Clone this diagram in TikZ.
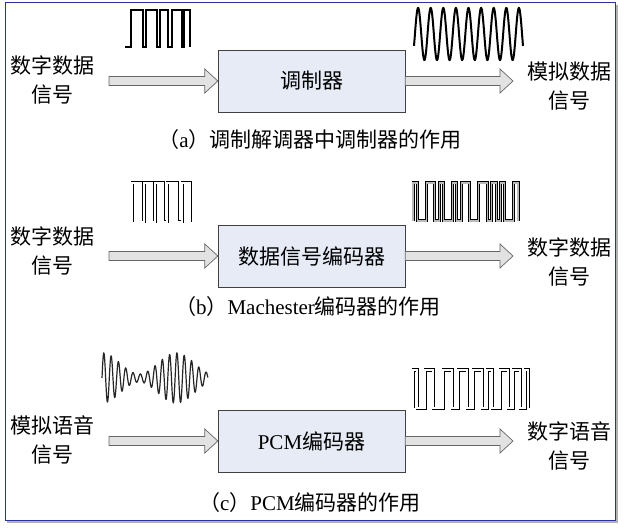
\documentclass[tikz,border=0pt]{standalone}
\usepackage{fontspec}
\setmainfont{Liberation Serif}
\newfontfamily\cjk{Noto Sans CJK SC}
\usepackage{xcolor}
\usepackage{tikz}
\usetikzlibrary{positioning,calc}
\definecolor{boxfill}{RGB}{230,235,246}
\definecolor{framec}{RGB}{40,50,160}
\definecolor{arrfill}{RGB}{226,226,226}

% hollow block arrow from #1 to #2 (same height)
\newcommand\blockarr[2]{\draw[blk] let \p1=(#1),\p2=(#2) in
  (\x1,\y1+4.5pt) -- (\x2-13pt,\y1+4.5pt) -- (\x2-13pt,\y1+12pt) -- (\x2,\y1)
  -- (\x2-13pt,\y1-12pt) -- (\x2-13pt,\y1-4.5pt) -- (\x1,\y1-4.5pt) -- cycle;}

\begin{document}
\begin{tikzpicture}[x=1pt,y=-1pt,font=\fontsize{21}{29}\selectfont,
  coder/.style={draw=black!75,fill=boxfill,minimum width=187pt,minimum height=62pt,inner sep=0pt},
  sig/.style={align=center,inner sep=0pt,font=\fontsize{21}{29}\selectfont\cjk},
  caption/.style={inner sep=0pt},
  blk/.style={draw=black!60,fill=arrfill,line width=0.7pt},
  wave/.style={line width=1.8pt,miter limit=2},
  dwave/.style={draw=black,double=white,double distance=1.2pt,line width=0.9pt}]
  \useasboundingbox (0,0) rectangle (624,529);
  \draw[black!30,line width=2pt] (8,6) rectangle (617,522);
  \draw[framec,fill=white,line width=1pt] (5,3) rectangle (615,520);
  % (a) modem
  \node[coder] (mod) at (311.5,81) {\cjk 调制器};
  \node[sig] (ain) at (52,80) {数字数据\\信号};
  \node[sig] (aout) at (569,86) {模拟数据\\信号};
  \coordinate (ast) at (109,81);
  \coordinate (aend) at (513,81);
  \blockarr{ast}{mod.west}
  \blockarr{mod.east}{aend}
  \draw[wave] (125,47) \foreach \xx/\l in {131/0,143/1,146/0,157/1,160/0,168/1,172/0,182/1,184/0,190/1}{ |- (\xx,{47-37*\l}) } -- (190,47);
  \draw[line width=2pt] plot[domain=-27:3087,samples=500] ({414+(\x+27)/3114*109},{34-26*sin(\x)});
  \node[caption] (capa) at (310,140) {{\cjk （}a{\cjk ）调制解调器中调制器的作用}};
  % (b) Manchester
  \node[coder] (enc) at (311.5,256) {\cjk 数据信号编码器};
  \node[sig] (bin) at (52,251) {数字数据\\信号};
  \node[sig] (bout) at (569,262) {数字数据\\信号};
  \coordinate (bst) at (109,256);
  \coordinate (bend) at (513,256);
  \blockarr{bst}{enc.west}
  \blockarr{enc.east}{bend}
  \draw[dwave] (132,222) \foreach \xx/\l in {141/1,144/0,152/1,155/0,163/1,167/0,177/1,182/0,190/1}{ |- (\xx,{222-39*\l}) } -- (190,222);
  \draw[dwave,double=gray!55] (413,221) \foreach \l [count=\i] in {1,0,0,1,1,0,1,0,0,1,0,1,1,0,0,1,1,0,1,0,1,0,0,1}{ |- ({413+\i*4.375},{221-38*\l}) } -- (518,221);
  \node[caption] (capb) at (308,307) {{\cjk （}b{\cjk ）}Machester{\cjk 编码器的作用}};
  % (c) PCM
  \node[coder] (pcm) at (311.5,441) {PCM{\cjk 编码器}};
  \node[sig] (cin) at (52,440) {模拟语音\\信号};
  \node[sig] (cout) at (569,446) {数字语音\\信号};
  \coordinate (cst) at (109,441);
  \coordinate (cend) at (513,441);
  \blockarr{cst}{pcm.west}
  \blockarr{pcm.east}{cend}
  \draw[line width=1.2pt,black!85] plot[domain=0:1,samples=700] ({102+106*\x},{378-(4+21*(0.5+0.5*cos(360*\x/0.7)))*sin(360*14.5*\x)});
  \draw[dwave] (413,408) \foreach \xx/\l in {417/1,425/0,433/1,443/0,452/1,458/0,467/1,473/0,482/1,487/0,492/1,500/0,508/1,513/0,520/1,525/0,528/1}{ |- (\xx,{408-38*\l}) } -- (528,408);
  \node[caption] (capc) at (310,503) {{\cjk （}c{\cjk ）}PCM{\cjk 编码器的作用}};
\end{tikzpicture}
\end{document}
